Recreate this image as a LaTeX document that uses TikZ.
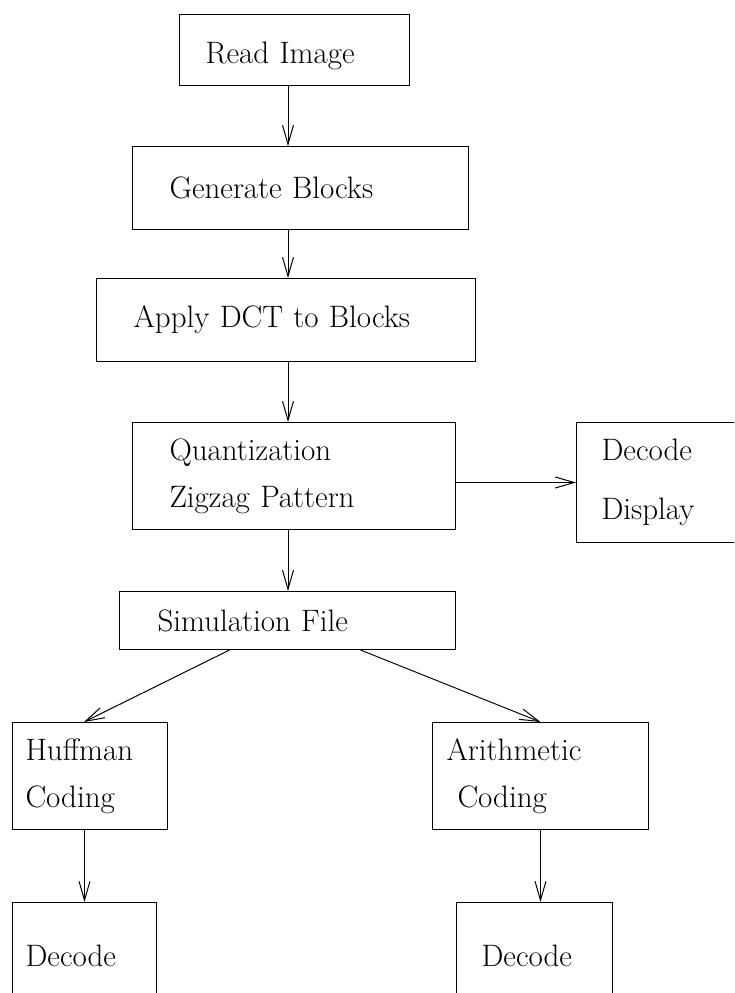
\documentclass[tikz,border=0pt]{standalone}
\usepackage{tikz}
\usetikzlibrary{arrows.meta}

\begin{document}
\begin{tikzpicture}[x=1pt,y=-1pt,
  blk/.style={draw,line width=1pt,anchor=north west,align=left,font=\fontsize{31}{47}\selectfont},
  flow/.style={-{Straight Barb[length=19pt,width=11pt]},line width=1pt}]
  \useasboundingbox (0,0) rectangle (734,993);
  \clip (0,0) rectangle (734,993);
  \coordinate (spine) at (288,0);
  \node[blk,minimum height=71pt,inner xsep=26pt,text width=178pt,text height=33pt] (read) at (179,14) {Read Image};
  \node[blk,minimum height=83pt,inner xsep=37pt,text width=262pt] (gen) at (132,146) {Generate Blocks};
  \node[blk,minimum height=83pt,inner xsep=37pt,text width=305pt] (dct) at (96,278) {Apply DCT to Blocks};
  \node[blk,minimum height=107pt,inner xsep=37pt,text width=249pt] (quant) at (132,422) {Quantization\\Zigzag Pattern};
  \node[blk,minimum height=120pt,inner xsep=25pt,text width=160pt] (disp) at (576,422) {Decode\\[12pt]Display};
  \node[blk,minimum height=58pt,inner xsep=38pt,text width=260pt] (sim) at (119,591) {Simulation File};
  \node[blk,minimum height=107pt,inner xsep=13pt,text width=129pt] (huff) at (12,722) {Huffman\\Coding};
  \node[blk,minimum height=107pt,inner xsep=14pt,text width=188pt] (arith) at (432,722) {Arithmetic\\\hspace*{11pt}Coding};
  \node[blk,minimum height=107pt,inner xsep=13pt,text width=118pt] (decl) at (12,902) {Decode};
  \node[blk,minimum height=107pt,inner xsep=25pt,text width=106pt] (decr) at (456,902) {Decode};
  \draw[flow] (read.south -| spine) -- (gen.north -| spine);
  \draw[flow] (gen.south -| spine) -- (dct.north -| spine);
  \draw[flow] (dct.south -| spine) -- (quant.north -| spine);
  \draw[flow] (quant.south -| spine) -- (sim.north -| spine);
  \draw[flow] (quant.east |- disp.west) -- (disp.west);
  \draw[flow] ([xshift=-58pt]sim.south) -- ([xshift=-6pt]huff.north);
  \draw[flow] ([xshift=73pt]sim.south) -- (arith.north);
  \draw[flow] (huff.south -| decl.north) -- (decl.north);
  \draw[flow] (arith.south) -- (arith.south |- decr.north);
\end{tikzpicture}
\end{document}
